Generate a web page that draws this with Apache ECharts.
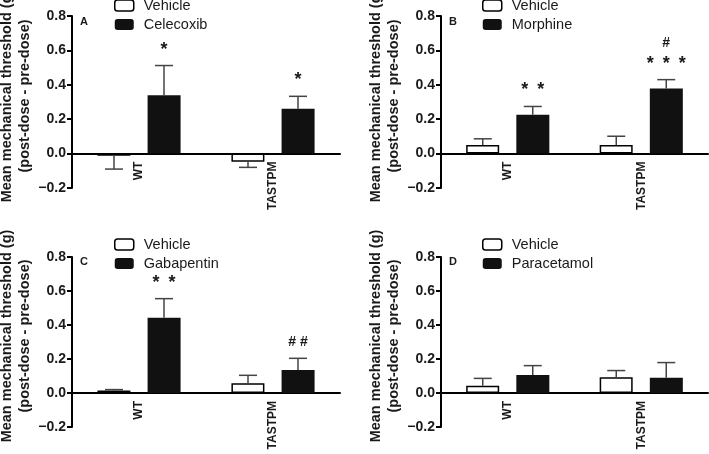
<!DOCTYPE html>
<html><head><meta charset="utf-8">
<script src="https://cdn.jsdelivr.net/npm/echarts@6/dist/echarts.min.js"></script>
<style>html,body{margin:0;padding:0;background:#fff}#c{width:709px;height:454px}</style>
</head><body><div id="c"></div>
<script>
// ---- data ----
const categories = ['WT', 'TASTPM'];
const yTicks = [-0.2, 0.0, 0.2, 0.4, 0.6, 0.8];
const panelLetters = ['A', 'B', 'C', 'D'];
const vehicleName = 'Vehicle';
const drugNames = ['Celecoxib', 'Morphine', 'Gabapentin', 'Paracetamol'];

const vehicleA = [-0.012, -0.047];
const vehicleAErr = [-0.090, -0.080];
const drugA = [0.339, 0.261];
const drugAErr = [0.512, 0.333];
const marksA = ['*', '*'];

const vehicleB = [0.050, 0.050];
const vehicleBErr = [0.086, 0.101];
const drugB = [0.226, 0.378];
const drugBErr = [0.274, 0.430];
const marksB = ['* *', '#\n* * *'];

const vehicleC = [0.015, 0.057];
const vehicleCErr = [0.020, 0.104];
const drugC = [0.442, 0.136];
const drugCErr = [0.555, 0.204];
const marksC = ['* *', '# #'];

const vehicleD = [0.043, 0.092];
const vehicleDErr = [0.086, 0.132];
const drugD = [0.106, 0.090];
const drugDErr = [0.161, 0.179];
const marksD = ['', ''];

const vehicles = [vehicleA, vehicleB, vehicleC, vehicleD];
const vehicleErrs = [vehicleAErr, vehicleBErr, vehicleCErr, vehicleDErr];
const drugs = [drugA, drugB, drugC, drugD];
const drugErrs = [drugAErr, drugBErr, drugCErr, drugDErr];
const marks = [marksA, marksB, marksC, marksD];

// ---- layout / style ----
const FONT = '"Liberation Sans", Arial, sans-serif';
const TXT = '#1a1a1a';
const BAR_W = 33, BAR_GAP_PX = 17;
const OFFSET = (BAR_W + BAR_GAP_PX) / 2;
const CAP = 18;
const ERR_COLOR = '#444';
const grids = [
  {left: 72, top: 16, width: 268, height: 172},
  {left: 441, top: 16, width: 267, height: 172},
  {left: 72, top: 257, width: 268, height: 170},
  {left: 441, top: 257, width: 267, height: 170}
];
const legendPos = [
  {left: 114, top: -2}, {left: 482, top: -2},
  {left: 114, top: 237}, {left: 482, top: 237}
];
const letterPos = [[80, 16], [449, 16], [80, 256], [449, 256]];
const yMin = yTicks[0], yMax = yTicks[yTicks.length - 1];

function fmt(v) {
  if (Math.abs(v) < 1e-9) return '0.0';
  return v.toFixed(1).replace('-', '\u2212');
}

function markText(t) {
  return t.split('\n').map(line =>
    line.indexOf('#') >= 0 ? '{h|' + line + '}' : '{s|' + line.replace(/ /g, '\u2002') + '}'
  ).join('\n');
}

function errSeries(gi, means, ends, mk, side) {
  return {
    type: 'custom', xAxisIndex: gi, yAxisIndex: gi, z: 5, silent: true,
    data: categories.map((c, i) => [i, means[i], ends[i]]),
    encode: {x: 0, y: [1, 2]},
    renderItem(params, api) {
      const i = api.value(0);
      const p0 = api.coord([i, api.value(1)]);
      const p1 = api.coord([i, api.value(2)]);
      const x = p0[0] + side * OFFSET;
      const ch = [
        {type: 'line', shape: {x1: x, y1: p0[1], x2: x, y2: p1[1]}, style: {stroke: ERR_COLOR, lineWidth: 1.5}},
        {type: 'line', shape: {x1: x - CAP / 2, y1: p1[1], x2: x + CAP / 2, y2: p1[1]}, style: {stroke: ERR_COLOR, lineWidth: 1.5}}
      ];
      const t = mk ? mk[params.dataIndex] : '';
      if (t) {
        ch.push({type: 'text', x: x, y: p1[1] - 6, style: {
          text: markText(t), fill: TXT, font: 'bold 18px ' + FONT,
          align: 'center', verticalAlign: 'bottom',
          rich: {
            s: {font: 'bold 18px ' + FONT, fill: TXT, lineHeight: 20},
            h: {font: 'bold 14px ' + FONT, fill: TXT, lineHeight: 20}
          }
        }});
      }
      return {type: 'group', children: ch};
    }
  };
}

const option = {
  animation: false,
  grid: grids.map(g => Object.assign({containLabel: false, outerBoundsMode: 'none'}, g)),
  xAxis: grids.map((g, gi) => ({
    type: 'category', gridIndex: gi, data: categories,
    offset: -g.height * (0 - yMin) / (yMax - yMin),
    axisLine: {onZero: false, lineStyle: {color: '#000', width: 2}},
    axisTick: {alignWithLabel: true, length: 5, lineStyle: {color: '#000', width: 2}},
    axisLabel: {rotate: 90, fontFamily: FONT, fontWeight: 'bold', fontSize: 12, color: TXT, margin: 8}
  })),
  yAxis: grids.map((g, gi) => ({
    type: 'value', gridIndex: gi,
    min: yMin, max: yMax, interval: yTicks[1] - yTicks[0],
    splitLine: {show: false},
    axisLine: {show: true, lineStyle: {color: '#000', width: 2}},
    axisTick: {show: true, length: 5, lineStyle: {color: '#000', width: 2}},
    axisLabel: {formatter: fmt, fontFamily: FONT, fontWeight: 'bold', fontSize: 14, color: TXT, margin: 6},
    name: 'Mean mechanical threshold (g)\n(post-dose - pre-dose)',
    nameLocation: 'middle', nameRotate: 90, nameGap: 29,
    nameTextStyle: {fontFamily: FONT, fontWeight: 'bold', fontSize: 14.5, color: TXT, lineHeight: 18, padding: [0, 0, 0, 12]}
  })),
  legend: grids.map((g, gi) => ({
    orient: 'vertical', left: legendPos[gi].left, top: legendPos[gi].top, padding: 0,
    itemWidth: 19, itemHeight: 11, itemGap: 4,
    textStyle: {fontFamily: FONT, fontSize: 14.5, color: TXT, padding: [0, 0, 0, 5]},
    data: [
      {name: vehicleName, itemStyle: {color: '#fff', borderColor: '#000', borderWidth: 1.5}},
      {name: drugNames[gi], itemStyle: {color: '#111'}}
    ]
  })),
  graphic: panelLetters.map((L, i) => ({
    type: 'text', left: letterPos[i][0], top: letterPos[i][1],
    style: {text: L, font: 'bold 11px ' + FONT, fill: TXT}
  })),
  series: []
};

grids.forEach((g, gi) => {
  option.series.push({
    type: 'bar', name: vehicleName, xAxisIndex: gi, yAxisIndex: gi,
    data: vehicles[gi], barWidth: BAR_W, barGap: (BAR_GAP_PX / BAR_W * 100).toFixed(0) + '%',
    itemStyle: {color: '#fff', borderColor: '#000', borderWidth: 1.5}, silent: true
  });
  option.series.push({
    type: 'bar', name: drugNames[gi], xAxisIndex: gi, yAxisIndex: gi,
    data: drugs[gi], barWidth: BAR_W, barGap: (BAR_GAP_PX / BAR_W * 100).toFixed(0) + '%',
    itemStyle: {color: '#111'}, silent: true
  });
  option.series.push(errSeries(gi, vehicles[gi], vehicleErrs[gi], null, -1));
  option.series.push(errSeries(gi, drugs[gi], drugErrs[gi], marks[gi], 1));
});

const chart = echarts.init(document.getElementById('c'), null, {renderer: 'canvas'});
chart.setOption(option);
</script>
</body></html>
